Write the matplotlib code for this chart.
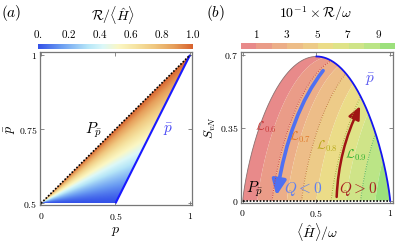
import numpy as np
import matplotlib
matplotlib.use('Agg')
import matplotlib.pyplot as plt
from matplotlib.colors import LinearSegmentedColormap, ListedColormap
from matplotlib.patches import Polygon, FancyArrowPatch
from matplotlib.path import Path

plt.rcParams['mathtext.fontset'] = 'cm'
plt.rcParams['font.family'] = ['DejaVu Serif']

# ---------------- data ----------------
# panel (a)
a_xticks = [0, 0.5, 1]
a_xticklabels = ['0', '0.5', '1']
a_yticks = [0.5, 0.75, 1]
a_yticklabels = ['0.5', '0.75', '1']
a_cbar_ticks = [0, 0.2, 0.4, 0.6, 0.8, 1.0]
a_cbar_labels = ['0.', '0.2', '0.4', '0.6', '0.8', '1.0']
a_cmap_stops = [0.0, 0.15, 0.32, 0.42, 0.52, 0.63, 0.75, 0.88, 1.0]
a_cmap_colors = ['#3452e8', '#6c9ef2', '#b6e6f8', '#dcf8f8', '#fbf7c4',
                 '#f6e4a2', '#f0c880', '#e69e5a', '#d8622e']
triangle_p = [0.0, 0.5, 1.0]
triangle_pbar = [0.5, 0.5, 1.0]

# panel (b)
b_xticks = [0, 0.5, 1]
b_xticklabels = ['0', '0.5', '1']
b_yticks = [0, 0.35, 0.7]
b_yticklabels = ['0', '0.35', '0.7']
b_levels = [-1, 0.1, 0.2, 0.3, 0.4, 0.5, 0.6, 0.7, 0.8, 0.9, 2.0]
b_band_colors = ['#e88a8a', '#ea9c88', '#ecae88', '#edbd88', '#edcb88',
                 '#ebdc88', '#dfe388', '#cfe488', '#bbe586', '#9ce07c']
b_cbar_ticks = [1, 3, 5, 7, 9]
b_curve_levels = [0.2, 0.4, 0.6, 0.8]
b_curve_names = ['0.6', '0.7', '0.8', '0.9']
b_curve_colors = ['#c84040', '#c07838', '#a8a030', '#58b058']
b_curve_label_colors = ['#c83838', '#e07828', '#b8a818', '#30b030']
b_curve_label_x = [0.16, 0.39, 0.57, 0.77]
b_curve_label_y = [0.352, 0.305, 0.263, 0.216]
blue_arrow_x = [0.545, 0.32, 0.229]
blue_arrow_y = [0.625, 0.42, 0.025]
red_arrow_x = [0.637, 0.65, 0.796]
red_arrow_y = [0.018, 0.244, 0.454]

# ---------------- figure ----------------
W, H = 397, 246
fig = plt.figure(figsize=(W / 100, H / 100), dpi=100)


def fx(px):
    return px / W


def fy(py):
    return 1 - py / H


frame_col = '#777777'


def style_axes(ax):
    for s in ax.spines.values():
        s.set_color(frame_col)
        s.set_linewidth(0.9)
    ax.tick_params(direction='in', length=3, width=0.6, color=frame_col,
                   top=True, right=True, labelsize=7)
    ax.tick_params(axis='x', pad=4)
    ax.tick_params(axis='y', pad=1.5)


# ---------- panel (a) ----------
ax1 = fig.add_axes([fx(39.5), fy(205), (192 - 39.5) / W, (205 - 52) / H])
ax1.set_xlim(-0.01, 1.0134)
ax1.set_ylim(0.4943, 1.0101)
cmap_a = LinearSegmentedColormap.from_list('a', list(zip(a_cmap_stops, a_cmap_colors)))

pp = np.linspace(0, 1, 500)
qq = np.linspace(0.5, 1, 400)
P, Q = np.meshgrid(pp, qq)
with np.errstate(divide='ignore', invalid='ignore'):
    T = np.clip((Q - 0.5) / (P / 2), 0, 1)
T = np.nan_to_num(T, nan=1.0) ** 1.35
im = ax1.imshow(T, origin='lower', extent=[0, 1, 0.5, 1], aspect='auto',
                cmap=cmap_a, vmin=0, vmax=1, interpolation='bilinear')
tri = Polygon(np.column_stack([triangle_p, triangle_pbar]), closed=True,
              transform=ax1.transData, facecolor='none', edgecolor='none')
ax1.add_patch(tri)
im.set_clip_path(tri)
ax1.plot([triangle_p[1], triangle_p[2]], [triangle_pbar[1], triangle_pbar[2]],
         color='#1a1aff', lw=1.5, solid_capstyle='butt')
ax1.plot([triangle_p[0], triangle_p[2]], [triangle_pbar[0], triangle_pbar[2]],
         color='k', lw=1.2, ls=(0, (1, 1)))
ax1.text(0.35, 0.747, r'$P_{\bar{p}}$', fontsize=11, ha='center', va='center')
ax1.text(0.85, 0.747, r'$\bar{p}$', fontsize=11, ha='center', va='center', color='#4a4af5')
ax1.set_xticks(a_xticks)
ax1.set_xticklabels(['$%s$' % s for s in a_xticklabels])
ax1.set_yticks(a_yticks)
ax1.set_yticklabels(['$%s$' % s for s in a_yticklabels])
style_axes(ax1)

# colorbar (a)
cax1 = fig.add_axes([fx(38.3), fy(49.3), 154.4 / W, 5 / H])
cax1.imshow(np.linspace(0, 1, 256)[None, :], aspect='auto', cmap=cmap_a,
            extent=[0, 1, 0, 1])
cax1.axis('off')
for v, lab in zip(a_cbar_ticks, a_cbar_labels):
    fig.text(fx(38.3 + v * 154.4), fy(34.5), '$%s$' % lab, fontsize=8,
             ha='center', va='center')
fig.text(fx(113), fy(15), r'$\mathcal{R}/\langle\hat{H}\rangle$', fontsize=10,
         ha='center', va='center')
fig.text(fx(11), fy(13), r'$(a)$', fontsize=11, ha='center', va='center')
fig.text(fx(115.5), fy(231), r'$p$', fontsize=10, ha='center', va='center')
fig.text(fx(10), fy(129), r'$\bar{p}$', fontsize=10, ha='center', va='center', rotation=90)

# ---------- panel (b) ----------
ax2 = fig.add_axes([fx(240.7), fy(202.7), (392.7 - 240.7) / W, (202.7 - 51.7) / H])
ax2.set_xlim(-0.0136, 1.017)
ax2.set_ylim(-0.0096, 0.716)


def hbin(x):
    x = np.asarray(x, dtype=float)
    with np.errstate(divide='ignore', invalid='ignore'):
        a = np.where(x > 0, -x * np.log(np.where(x > 0, x, 1)), 0.0)
        b = np.where(x < 1, -(1 - x) * np.log(np.where(x < 1, 1 - x, 1)), 0.0)
    return a + b


lam_tab = np.linspace(0, 0.5, 4001)
h_tab = hbin(lam_tab)
xs = np.linspace(0, 1, 700)
ss = np.linspace(0, 0.7, 500)
X, S = np.meshgrid(xs, ss)
LAM = np.interp(S, h_tab, lam_tab)
R = X - LAM
cs = ax2.contourf(X, S, R, levels=b_levels, colors=b_band_colors, antialiased=True)
xd = np.linspace(0, 1, 600)
dome = Polygon(np.column_stack([xd, hbin(xd)]), closed=True, transform=ax2.transData,
               facecolor='none', edgecolor='none')
ax2.add_patch(dome)
cs.set_clip_path(dome)

# level curves
for lev, col in zip(b_curve_levels, b_curve_colors):
    lam = np.linspace(0, (1 - lev) / 2, 200)
    ax2.plot(lev + lam, hbin(lam), color=col, lw=0.7, ls=(0, (1, 1.5)))

xl = np.linspace(0, 0.5, 300)
ax2.plot(xl, hbin(xl), color='#8a7070', lw=0.6)
xr = np.linspace(0.5, 1, 300)
ax2.plot(xr, hbin(xr), color='#1414f0', lw=1.3)
ax2.plot([0, 1], [0, 0], color='k', lw=1.2, ls=(0, (1, 1)))

# arrows
for ax_, ay_, col, lw, ms in [(blue_arrow_x, blue_arrow_y, '#4f70f2', 2.6, 13),
                               (red_arrow_x, red_arrow_y, '#a01414', 1.8, 11)]:
    path = Path(np.column_stack([ax_, ay_]), [Path.MOVETO, Path.CURVE3, Path.CURVE3])
    arr = FancyArrowPatch(path=path, arrowstyle='-|>,head_length=0.7,head_width=0.32',
                          mutation_scale=ms, color=col, lw=lw, transform=ax2.transData)
    ax2.add_patch(arr)

for name, col, x, y in zip(b_curve_names, b_curve_label_colors, b_curve_label_x, b_curve_label_y):
    ax2.text(x, y, r'$\mathcal{L}_{%s}$' % name, color=col, fontsize=9, ha='center', va='center')
ax2.text(0.864, 0.58, r'$\bar{p}$', fontsize=11, color='#5a5af0', ha='center', va='center')
ax2.text(0.08, 0.057, r'$P_{\bar{p}}$', fontsize=11, color='k', ha='center', va='center')
ax2.text(0.41, 0.057, r'$Q<0$', fontsize=11, color='#6080f0', ha='center', va='center')
ax2.text(0.78, 0.057, r'$Q>0$', fontsize=11, color='#a82020', ha='center', va='center')

ax2.set_xticks(b_xticks)
ax2.set_xticklabels(['$%s$' % s for s in b_xticklabels])
ax2.set_yticks(b_yticks)
ax2.set_yticklabels(['$%s$' % s for s in b_yticklabels])
style_axes(ax2)

# colorbar (b)
cax2 = fig.add_axes([fx(240.7), fy(49), 153.3 / W, 5.7 / H])
cax2.imshow(np.arange(len(b_band_colors))[None, :], aspect='auto',
            cmap=ListedColormap(b_band_colors), extent=[0, 10, 0, 1], interpolation='nearest')
cax2.axis('off')
for v in b_cbar_ticks:
    fig.text(fx(240.7 + v / 10 * 153.3), fy(33.5), '$%d$' % v, fontsize=8,
             ha='center', va='center')
fig.text(fx(315), fy(14), r'$10^{-1}\times\mathcal{R}/\omega$', fontsize=10,
         ha='center', va='center')
fig.text(fx(215), fy(13), r'$(b)$', fontsize=11, ha='center', va='center')
fig.text(fx(316.7), fy(232), r'$\langle\hat{H}\rangle/\omega$', fontsize=10,
         ha='center', va='center')
fig.text(fx(210), fy(128), r'$S_{vN}$', fontsize=9.5, ha='center', va='center', rotation=90)

fig.savefig('out.png', dpi=100)
